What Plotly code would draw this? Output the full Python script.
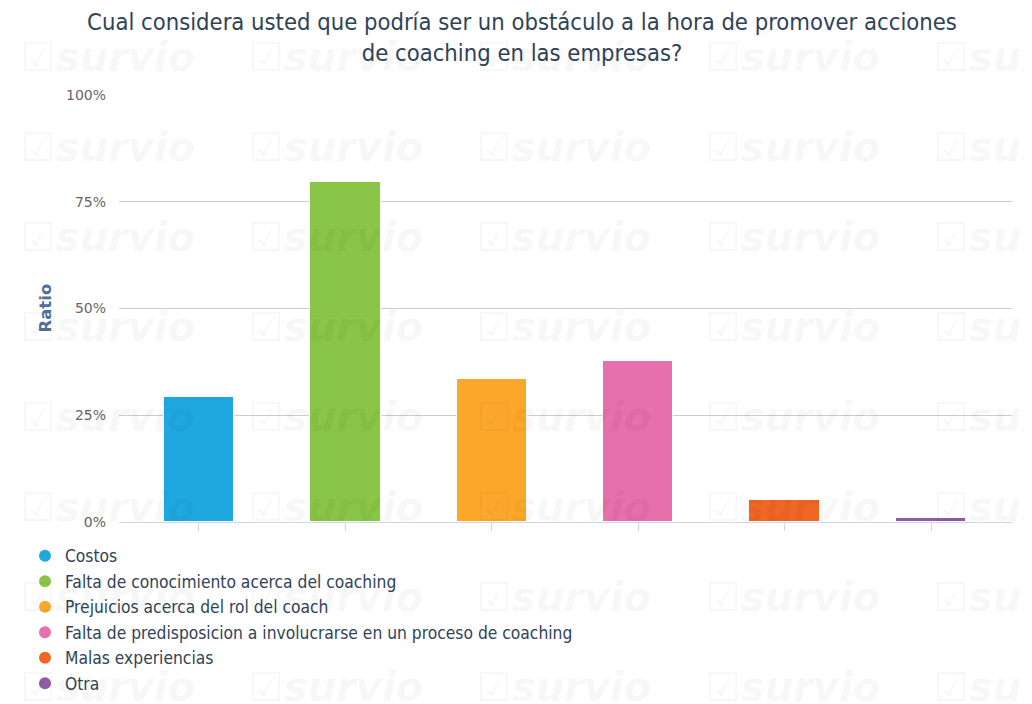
import plotly.graph_objects as go

categories = [
    "Costos",
    "Falta de conocimiento acerca del coaching",
    "Prejuicios acerca del rol del coach",
    "Falta de predisposicion a involucrarse en un proceso de coaching",
    "Malas experiencias",
    "Otra",
]
values = [29.2, 79.6, 33.6, 37.7, 5.2, 1.0]
colors = ["#1fa8e0", "#89c546", "#fba82a", "#e76fab", "#f06724", "#8e5ba6"]
tick_vals = [0, 25, 50, 75, 100]
tick_text = ["0%", "25%", "50%", "75%", "100%"]
title_text = ("Cual considera usted que podría ser un obstáculo a la hora de promover acciones"
              "<br>de coaching en las empresas?")
y_title = "Ratio"

FONT = "DejaVu Sans Condensed, DejaVu Sans"
W, H = 1024, 696          # page adds an 8px body margin
PL, PR, PT, PB = 111, 1004, 87, 514   # plot area in figure pixels

def px_x(x):
    return (x - PL) / (PR - PL)

def px_y(y):
    return (PB - y) / (PB - PT)

fig = go.Figure()
for i, (cat, val, col) in enumerate(zip(categories, values, colors)):
    fig.add_trace(go.Bar(
        x=[i], y=[val], name=cat, width=0.48,
        marker=dict(color=col, line=dict(color="white", width=1)),
        showlegend=False, hovertemplate=f"{cat}: %{{y:.1f}}%<extra></extra>",
    ))
    fig.add_trace(go.Scatter(
        x=[None], y=[None], mode="markers", name=cat,
        marker=dict(color=col, size=11, symbol="circle"),
        showlegend=True,
    ))

# watermark
wm_cols = [10, 238, 466, 695, 923]
wm_rows = [49, 139, 229, 319, 409, 499, 589, 679]
for cx in wm_cols:
    for ry in wm_rows:
        fig.add_annotation(
            xref="paper", yref="paper", x=px_x(cx), y=px_y(ry),
            text="<b><i>☑survio</i></b>", showarrow=False,
            xanchor="left", yanchor="middle",
            font=dict(family="DejaVu Sans", size=40, color="rgba(0,0,0,0.045)"),
        )

# y axis title
fig.add_annotation(
    xref="paper", yref="paper", x=px_x(37), y=0.5, text=f"<b>{y_title}</b>",
    textangle=-90, showarrow=False, xanchor="center", yanchor="middle",
    font=dict(family="DejaVu Sans", size=16.5, color="#4d6f99"),
)

fig.update_layout(
    width=W, height=H,
    paper_bgcolor="white", plot_bgcolor="rgba(0,0,0,0)",
    margin=dict(l=PL, r=W - PR, t=PT, b=H - PB, autoexpand=False),
    title=dict(text=title_text, x=(514) / W, xanchor="center", yref="container",
               y=1 - 22 / H, yanchor="top",
               font=dict(family=FONT, size=23.6, color="#2f4358")),
    font=dict(family=FONT, color="#333"),
    bargap=0,
    xaxis=dict(range=[-0.546, 5.553], showticklabels=False, tickmode="array",
               tickvals=list(range(len(categories))), ticks="outside", ticklen=8,
               tickcolor="#ccd6eb", showline=True, linecolor="#ccd6eb", linewidth=1,
               showgrid=False, zeroline=False, fixedrange=True),
    yaxis=dict(range=[0, 100], tickmode="array", tickvals=tick_vals, ticktext=tick_text,
               showgrid=True, gridcolor="#cccccc", gridwidth=1, zeroline=False,
               tickfont=dict(family="DejaVu Sans", size=14, color="#666666"),
               ticklabelstandoff=12, title=dict(text="")),
    legend=dict(xref="container", yref="container", x=17 / W, y=1 - 530 / H,
                xanchor="left", yanchor="top", bgcolor="rgba(0,0,0,0)",
                font=dict(family=FONT, size=17.3, color="#2f4358"),
                itemsizing="constant", tracegroupgap=0),
)

fig.write_html("out.html")
